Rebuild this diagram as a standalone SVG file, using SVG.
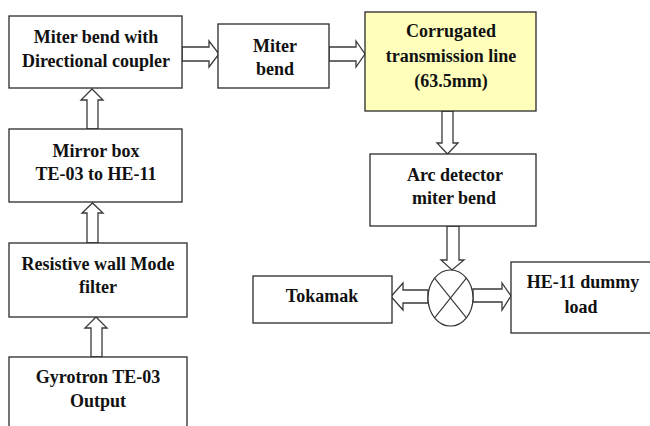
<svg xmlns="http://www.w3.org/2000/svg" width="650" height="426" viewBox="0 0 650 426">
<style>
.box{fill:#fff;stroke:#2a2a2a;stroke-width:1.3}
.yel{fill:#ffffbb}
.t{font-family:"Liberation Serif","Times New Roman",serif;font-weight:bold;font-size:18px;fill:#111;text-anchor:middle}
.ar{fill:#fff;stroke:#3a3a3a;stroke-width:1.3;stroke-linejoin:miter}
.x{fill:#fff;stroke:#333;stroke-width:1.2}
</style>
<rect width="650" height="426" fill="#fff"/>
<g id="connectors">
<polygon class="ar" points="182,47 209,47 209,41 219,54 209,67 209,61 182,61"/>
<polygon class="ar" points="329,47 356,47 356,41 365,54 356,67 356,61 329,61"/>
<polygon class="ar" points="442,111 453,111 453,143 458,143 447.5,154 437,143 442,143"/>
<polygon class="ar" points="447,226 459,226 459,260 464,260 452,270 441,260 447,260"/>
<polygon class="ar" points="428,290 403,290 403,283 391,296.5 403,310 403,303 428,303"/>
<polygon class="ar" points="473,289 502,289 502,283 511,296 502,310 502,302 473,302"/>
<polygon class="ar" points="87,129 87,100 81,100 92,89 103,100 98,100 98,129"/>
<polygon class="ar" points="87,243 87,213 82,213 92.5,203 103,213 98,213 98,243"/>
<polygon class="ar" points="91,357 91,328 85,328 96,317 107,328 102,328 102,357"/>
</g>
<g id="junction">
<ellipse class="x" cx="450.5" cy="298" rx="22.5" ry="28"/>
<line x1="434.6" y1="278.2" x2="466.4" y2="317.8" stroke="#333" stroke-width="1.1"/>
<line x1="466.4" y1="278.2" x2="434.6" y2="317.8" stroke="#333" stroke-width="1.1"/>
</g>
<g id="miter-dc">
<rect class="box" x="9" y="16" width="173" height="72"/>
<text class="t" x="96" y="43">Miter bend with</text>
<text class="t" x="96" y="67">Directional coupler</text>
</g>
<g id="miter">
<rect class="box" x="218" y="24" width="111" height="64"/>
<text class="t" x="275" y="52">Miter</text>
<text class="t" x="275" y="75">bend</text>
</g>
<g id="corrugated">
<rect class="box yel" x="365" y="12" width="171" height="99"/>
<text class="t" x="451" y="37">Corrugated</text>
<text class="t" x="451" y="62">transmission line</text>
<text class="t" x="451" y="87">(63.5mm)</text>
</g>
<g id="arc">
<rect class="box" x="370" y="154" width="166" height="72"/>
<text class="t" x="455" y="181">Arc detector</text>
<text class="t" x="454" y="204">miter bend</text>
</g>
<g id="mirror">
<rect class="box" x="9" y="129" width="173" height="73"/>
<text class="t" x="96" y="157">Mirror box</text>
<text class="t" x="96" y="180">TE-03 to HE-11</text>
</g>
<g id="resistive">
<rect class="box" x="9" y="243" width="178" height="74"/>
<text class="t" x="98" y="270">Resistive wall Mode</text>
<text class="t" x="98" y="293">filter</text>
</g>
<g id="gyrotron">
<rect class="box" x="9" y="357" width="178" height="80"/>
<text class="t" x="98" y="383">Gyrotron TE-03</text>
<text class="t" x="98" y="407">Output</text>
</g>
<g id="tokamak">
<rect class="box" x="253" y="276" width="139" height="47"/>
<text class="t" x="322" y="302">Tokamak</text>
</g>
<g id="dummy">
<rect class="box" x="511" y="262" width="150" height="71"/>
<text class="t" x="583" y="288">HE-11 dummy</text>
<text class="t" x="581" y="313">load</text>
</g>
</svg>
